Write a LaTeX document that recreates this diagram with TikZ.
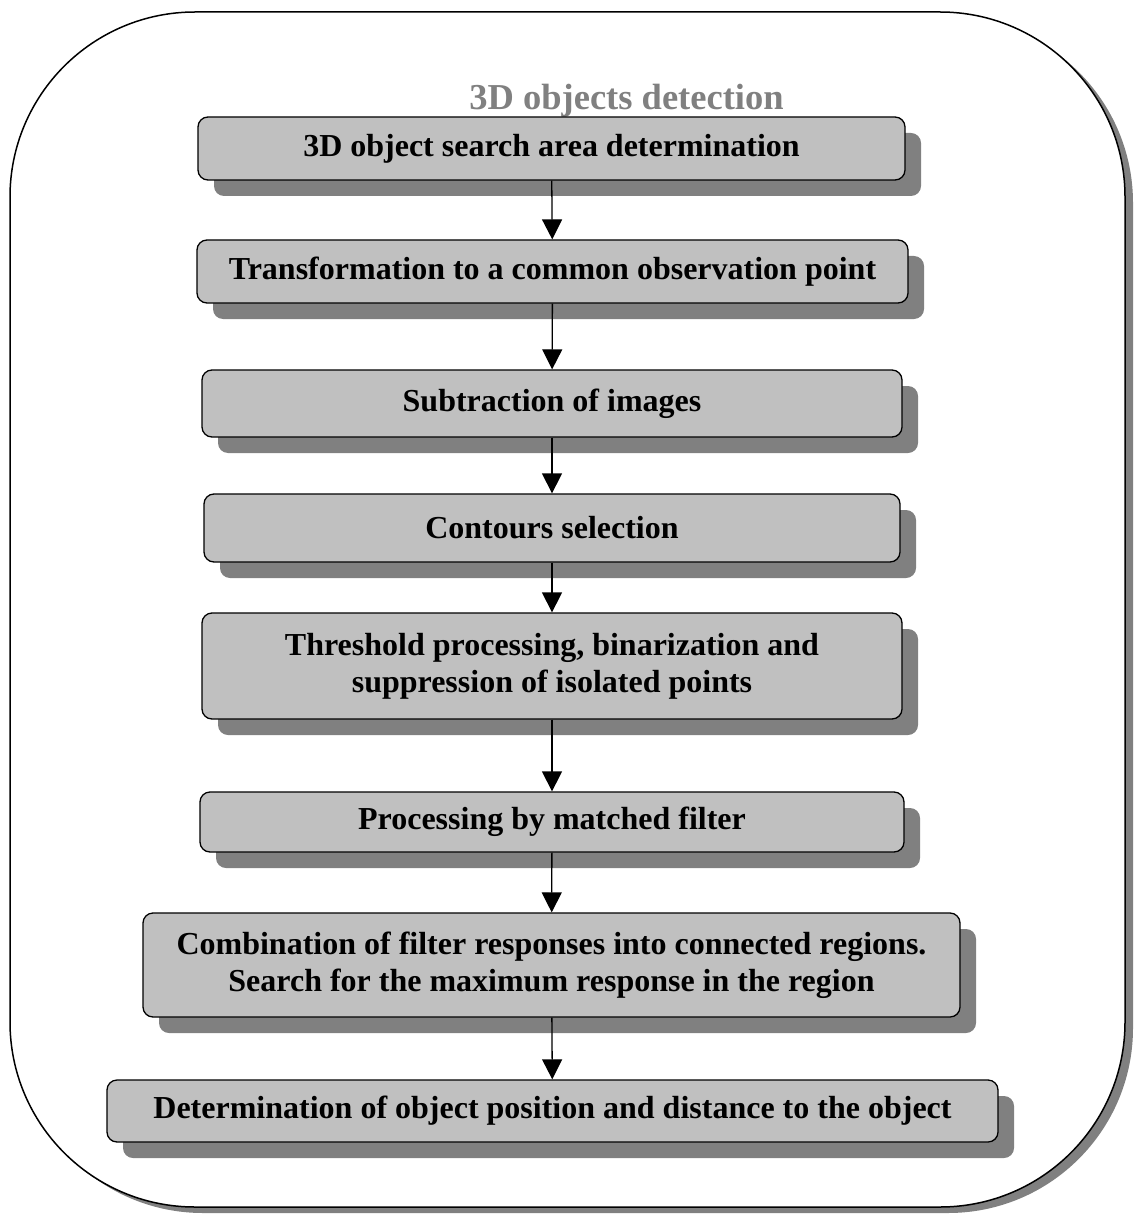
\documentclass[tikz,border=0pt]{standalone}
\usepackage{fontspec}
\setmainfont{Liberation Serif}
\usetikzlibrary{arrows.meta,shadows}
\definecolor{boxgray}{HTML}{C0C0C0}
\definecolor{shadegray}{HTML}{808080}

\begin{document}
\begin{tikzpicture}[x=1pt,y=-1pt,
    stage/.style={draw,line width=1.3pt,fill=boxgray,rounded corners=10pt,inner sep=0pt,
      align=center,font=\bfseries\fontsize{32}{37}\selectfont,
      drop shadow={shadow xshift=16pt,shadow yshift=-16pt,fill=shadegray,opacity=1}},
    flow/.style={line width=1.3pt,-{Triangle[width=20pt,length=20pt]}}]
      \useasboundingbox (0,0) rectangle (1133,1214);
      \node (frame) at (567.5,609.5) [draw,line width=1.5pt,fill=white,rounded corners=185pt,
        minimum width=1115pt,minimum height=1195pt,
        drop shadow={shadow xshift=8pt,shadow yshift=-6pt,fill=shadegray,opacity=1}] {};
      \node (title) at (626.5,110) [anchor=base,text=shadegray,font=\bfseries\fontsize{36.5}{42}\selectfont] {3D objects detection};

      \node (area) at (551.5,148.5) [stage,minimum width=707pt,minimum height=63pt] {3D object search area determination};
      \node (transf) at (552.5,271.5) [stage,minimum width=711pt,minimum height=63pt] {Transformation to a common observation point};
      \node (subtr) at (552,403.5) [stage,minimum width=700pt,minimum height=67pt] {Subtraction of images};
      \node (contour) at (552,528) [stage,minimum width=696pt,minimum height=68pt] {Contours selection};
      \node (thresh) at (552,666) [stage,minimum width=700pt,minimum height=106pt] {Threshold processing, binarization and\\ suppression of isolated points};
      \node (matched) at (552,822) [stage,minimum width=704pt,minimum height=60pt] {Processing by matched filter};
      \node (combine) at (551.5,965) [stage,minimum width=817pt,minimum height=104pt] {Combination of filter responses into connected regions.\\ Search for the maximum response in the region};
      \node (position) at (552.5,1111) [stage,minimum width=891pt,minimum height=62pt] {Determination of object position and distance to the object};

      \draw[flow] (area) -- (transf);
      \draw[flow] (transf) -- (subtr);
      \draw[flow] (subtr) -- (contour);
      \draw[flow] (contour) -- (thresh);
      \draw[flow] (thresh) -- (matched);
      \draw[flow] (matched) -- (combine);
      \draw[flow] (combine) -- (position);
    \end{tikzpicture}
\end{document}
